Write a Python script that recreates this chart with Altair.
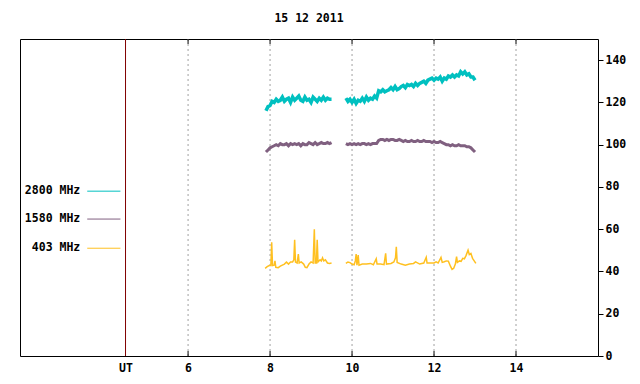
import altair as alt
import pandas as pd

FONT = "DejaVu Sans Mono"

# ---- data ----
grid_hours = [6, 8, 10, 12, 14]
ut_hour = [4.474]
tick_values = [4.474, 6, 8, 10, 12, 14]
y_ticks = [0, 20, 40, 60, 80, 100, 120, 140]

series_names = ["2800 MHz", "1580 MHz", "403 MHz"]
series_colors = ["#00c0c0", "#806080", "#ffc020"]

step = 0.05
start_a = 7.90
start_b = 9.85

v2800_a = [116, 118, 118.5, 120.5, 120, 121.5, 120.5, 121, 122.5, 120.5, 121.5, 122,
           120, 122.5, 121, 122, 123, 121, 120.5, 122.5, 121, 121.5, 120, 122.5,
           121.5, 120.5, 122, 121, 122.5, 121, 122, 121.5, 121.5]
v2800_b = [122, 120.5, 121.5, 120, 121.5, 119.5, 121, 120.5, 122, 120.5, 122.5, 121,
           122, 121.5, 123, 122,
           125.5, 125, 126, 125, 125.5, 126, 127, 126, 127.5, 126, 126.5, 127.5, 128,
           127, 128.5, 128,
           128.5, 127.5, 129, 128, 129, 129.5, 130, 129, 130.5, 131, 131.5, 130.5,
           131.5, 131, 132, 130,
           131.5, 131, 132.5, 132, 133, 132, 133, 132.5, 134.5, 133.5, 134.5, 133,
           133.5, 132, 132, 130.5]

v1580_a = [96.5, 97.5, 98.5, 99, 99.5, 100, 99.5, 100.5, 100, 100, 100.5, 99.5, 100.5,
           100, 100.5, 100, 100.5, 99.5, 100.5, 100, 100, 101, 100.5, 100, 101, 100,
           100.5, 101, 100.5, 100.5, 101, 100.5, 101]
v1580_b = [100.5, 100, 100.5, 100, 100.5, 100, 100.5, 100, 100.5, 100.5, 100, 100.5,
           100, 100.5, 100.5, 100.5,
           102, 102.5, 102.5, 102, 102.5, 102, 102.5, 102.5, 102, 102, 102.5, 102,
           101.5, 102, 101.5, 101.5,
           102, 101.5, 101.5, 102, 101.5, 101.5, 102, 101.5, 101.5, 101.5, 101, 101.5,
           101, 101, 101.5, 101,
           100.5, 100, 100, 99.5, 100, 99.5, 99.5, 100, 99.5, 99.5, 99.5, 99, 99, 98.5,
           97.5, 96.5]

t403_a = [7.88, 7.93, 7.98, 8.02, 8.04, 8.06, 8.10, 8.12, 8.14, 8.20, 8.25, 8.30, 8.35,
          8.40, 8.45, 8.50, 8.55, 8.58, 8.60, 8.62, 8.66, 8.69, 8.71, 8.76, 8.82, 8.86,
          8.90, 8.95, 9.00, 9.05, 9.08, 9.10, 9.13, 9.15, 9.17, 9.22, 9.25, 9.28, 9.31,
          9.35, 9.40, 9.45, 9.50]
v403_a = [41.5, 42.3, 42.8, 42.8, 53.8, 42.8, 43, 45, 42, 41.8, 42.5, 43, 43.5, 44.5,
          43.5, 44.5, 44.5, 45.5, 55, 44.5, 44, 48.2, 44, 44.5, 43.5, 42, 41.8, 43.5,
          44.5, 44, 60, 44, 44, 55, 44.5, 45.5, 45, 46.5, 45, 45.5, 44, 43.8, 44]
t403_b = [9.85, 9.90, 9.95, 10.00, 10.05, 10.08, 10.10, 10.12, 10.15, 10.17, 10.25,
          10.35, 10.45, 10.52, 10.59, 10.61, 10.70, 10.78, 10.82, 10.84, 10.95, 11.02,
          11.06, 11.08, 11.10, 11.20, 11.30, 11.40, 11.50, 11.55, 11.65, 11.75, 11.81,
          11.83, 11.90, 12.00, 12.05, 12.10, 12.17, 12.20, 12.25, 12.30, 12.35, 12.40,
          12.44, 12.48, 12.52, 12.55, 12.57, 12.62, 12.66, 12.70, 12.74, 12.78, 12.83,
          12.86, 12.90, 12.94, 12.98, 13.02]
v403_b = [43.8, 44.5, 44.2, 43.5, 43.2, 45, 48.2, 43, 47.8, 43, 43.5, 43.5, 43.8, 43.2,
          46, 43.5, 43.5, 43.2, 48.6, 43.5, 43.8, 44.5, 46.5, 51.7, 44.3, 43.5, 43,
          43.5, 43.8, 44.5, 43.5, 44, 46.7, 44, 44, 44, 44.5, 44, 46.7, 44.3, 44.6, 45,
          44.9, 42.5, 41, 41.5, 43.5, 47, 44.3, 45, 44.8, 46.2, 46, 47.5, 50.1, 48,
          48.5, 46.2, 45, 43.8]

# legend entries (placed inside the frame, in data units)
legend_text_x = [3.37, 3.37, 3.37]
legend_line_x = [3.54, 3.54, 3.54]
legend_line_x2 = [4.35, 4.35, 4.35]
legend_y = [78, 64.8, 51]

# ---- build tables ----
rows = []
def add(series, seg, times, vals):
    for t, v in zip(times, vals):
        rows.append({"t": t, "v": v, "series": series, "seg": f"{series}-{seg}"})

def grid_times(start, n):
    return [round(start + step * i, 3) for i in range(n)]

add("2800 MHz", "a", grid_times(start_a, len(v2800_a)), v2800_a)
add("2800 MHz", "b", grid_times(start_b, len(v2800_b)), v2800_b)
add("1580 MHz", "a", grid_times(start_a, len(v1580_a)), v1580_a)
add("1580 MHz", "b", grid_times(start_b, len(v1580_b)), v1580_b)
add("403 MHz", "a", t403_a, v403_a)
add("403 MHz", "b", t403_b, v403_b)
lines_df = pd.DataFrame(rows)

legend_df = pd.DataFrame({
    "series": series_names,
    "tx": legend_text_x,
    "lx": legend_line_x,
    "lx2": legend_line_x2,
    "y": legend_y,
})

xscale = alt.Scale(domain=[1.9, 16], nice=False, zero=False)
yscale = alt.Scale(domain=[0, 150], nice=False)
cscale = alt.Scale(domain=series_names, range=series_colors)

x_axis = alt.Axis(values=tick_values, orient="bottom", domain=False, ticks=False,
                  grid=False, labelFont=FONT, labelFontSize=11.5, labelFontWeight="bold",
                  labelColor="black", labelPadding=6, title=None,
                  labelExpr="datum.value < 5 ? 'UT' : format(datum.value, 'd')")
y_axis = alt.Axis(values=y_ticks, orient="right", domain=False, ticks=True, tickSize=5,
                  tickColor="black", grid=False, labelFont=FONT, labelFontSize=11.5,
                  labelFontWeight="bold", labelColor="black", labelPadding=2, title=None)

grid = alt.Chart(pd.DataFrame({"h": grid_hours})).mark_rule(
    color="#a0a0a0", strokeDash=[2, 3], strokeWidth=1
).encode(x=alt.X("h:Q", scale=xscale, axis=x_axis))

ut = alt.Chart(pd.DataFrame({"h": ut_hour})).mark_rule(
    color="#800000", strokeWidth=1
).encode(x=alt.X("h:Q", scale=xscale))

top_ticks = alt.Chart(pd.DataFrame({"h": grid_hours})).mark_rule(
    color="black", strokeWidth=1
).encode(x=alt.X("h:Q", scale=xscale), y=alt.value(0), y2=alt.value(5))

bot_ticks = alt.Chart(pd.DataFrame({"h": grid_hours})).mark_rule(
    color="black", strokeWidth=1
).encode(x=alt.X("h:Q", scale=xscale), y=alt.value(312), y2=alt.value(317))

base_lines = alt.Chart(lines_df).encode(
    x=alt.X("t:Q", scale=xscale),
    y=alt.Y("v:Q", scale=yscale, axis=y_axis),
    color=alt.Color("series:N", scale=cscale, legend=None),
    detail="seg:N",
    order="t:Q",
)
teal_lines = base_lines.mark_line(strokeWidth=3.5).transform_filter(
    alt.FieldEqualPredicate(field="series", equal="2800 MHz"))
purple_lines = base_lines.mark_line(strokeWidth=3).transform_filter(
    alt.FieldEqualPredicate(field="series", equal="1580 MHz"))
thin_lines = base_lines.mark_line(strokeWidth=1.5).transform_filter(
    alt.FieldEqualPredicate(field="series", equal="403 MHz"))

leg_text = alt.Chart(legend_df).mark_text(
    align="right", baseline="middle", font=FONT, fontSize=11.5, fontWeight="bold",
    color="black"
).encode(x=alt.X("tx:Q", scale=xscale), y=alt.Y("y:Q", scale=yscale), text="series:N")

leg_lines = alt.Chart(legend_df).mark_rule(strokeWidth=1).encode(
    x=alt.X("lx:Q", scale=xscale), x2="lx2:Q",
    y=alt.Y("y:Q", scale=yscale),
    color=alt.Color("series:N", scale=cscale, legend=None),
)

chart = alt.layer(grid, ut, top_ticks, bot_ticks, teal_lines, purple_lines, thin_lines,
                  leg_lines, leg_text).properties(
    width=578, height=317,
    background="white",
    title=alt.TitleParams("15 12 2011", font=FONT, fontSize=11.5, fontWeight="bold",
                          color="black", anchor="middle", offset=14),
    autosize=alt.AutoSizeParams(type="none"),
    padding={"left": 12, "top": 31, "right": 34, "bottom": 20},
).configure_view(stroke="black", strokeWidth=1)

chart.save("out.html", embed_options={"renderer": "svg", "actions": False})
